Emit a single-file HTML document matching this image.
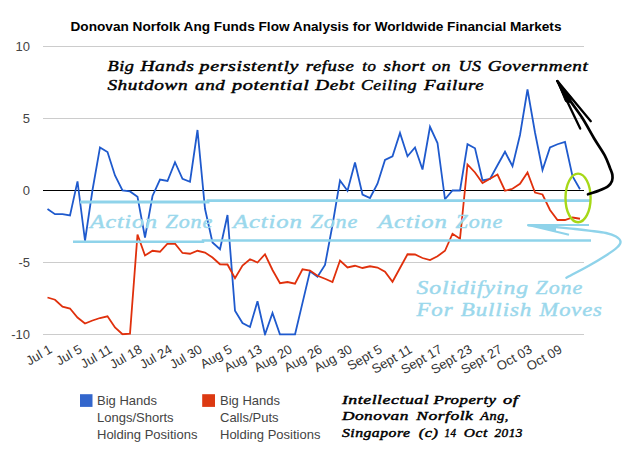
<!DOCTYPE html>
<html><head><meta charset="utf-8"><style>
html,body{margin:0;padding:0;background:#fff;}
svg{display:block;font-family:"Liberation Sans",sans-serif;}
.cal{font-family:"Liberation Serif",serif;font-style:italic;font-weight:normal;stroke-width:0.45;stroke-linejoin:round;}
</style></head><body>
<svg width="640" height="469" viewBox="0 0 640 469">
<rect width="640" height="469" fill="#fff"/>
<text x="70.5" y="31" font-size="12.2" font-weight="bold" fill="#000" textLength="491" lengthAdjust="spacingAndGlyphs">Donovan Norfolk Ang Funds Flow Analysis for Worldwide Financial Markets</text>
<g stroke="#ccc" stroke-width="1" shape-rendering="crispEdges">
<line x1="43" x2="584" y1="46.5" y2="46.5"/>
<line x1="43" x2="584" y1="118.5" y2="118.5"/>
<line x1="43" x2="584" y1="262.5" y2="262.5"/>
<line x1="43" x2="584" y1="334.5" y2="334.5"/>
</g>
<line x1="43" x2="584" y1="190.5" y2="190.5" stroke="#000" stroke-width="1" shape-rendering="crispEdges"/>
<g font-size="13" fill="#444" text-anchor="end">
<text x="30" y="50.8">10</text><text x="30" y="122.8">5</text><text x="30" y="194.8">0</text><text x="30" y="266.8">-5</text><text x="30" y="338.8">-10</text>
</g>
<defs><clipPath id="pa"><rect x="43" y="40" width="542" height="295.4"/></clipPath></defs>
<path clip-path="url(#pa)" d="M47.5,209.00 L55.0,214.20 L62.5,214.20 L70.0,215.50 L77.5,181.40 L85.0,240.75 L92.5,190.00 L100.0,147.40 L107.5,152.00 L115.0,175.50 L122.5,190.40 L130.0,191.40 L137.5,196.80 L145.0,237.50 L152.5,196.00 L160.0,179.60 L167.5,181.00 L175.0,162.20 L182.5,178.90 L190.0,181.75 L197.5,130.00 L205.0,208.75 L212.5,242.50 L220.0,249.25 L227.5,215.00 L235.0,310.75 L242.5,323.00 L250.0,327.00 L257.5,301.25 L265.0,334.50 L272.5,313.00 L280.0,334.50 L287.5,334.50 L295.0,334.50 L302.5,302.90 L310.0,271.25 L317.5,276.75 L325.0,265.00 L332.5,225.00 L340.0,180.50 L347.5,190.75 L355.0,162.50 L362.5,194.50 L370.0,198.00 L377.5,183.75 L385.0,160.00 L392.5,156.25 L400.0,133.00 L407.5,156.25 L415.0,147.50 L422.5,169.50 L430.0,126.75 L437.5,143.00 L445.0,199.25 L452.5,190.50 L460.0,190.50 L467.5,144.25 L475.0,148.25 L482.5,180.50 L490.0,179.00 L497.5,165.25 L505.0,151.75 L512.5,166.25 L520.0,135.00 L527.5,89.50 L535.0,132.50 L542.5,170.00 L550.0,147.50 L557.5,144.25 L565.0,142.00 L572.5,176.25 L580.0,189.25" fill="none" stroke="#1f5acd" stroke-width="1.8"/>
<path clip-path="url(#pa)" d="M47.5,297.50 L55.0,299.75 L62.5,306.75 L70.0,308.50 L77.5,317.50 L85.0,323.50 L92.5,320.50 L100.0,318.00 L107.5,316.25 L115.0,327.50 L122.5,334.25 L130.0,333.75 L137.5,234.50 L145.0,255.50 L152.5,250.75 L160.0,251.75 L167.5,243.75 L175.0,243.75 L182.5,253.00 L190.0,253.75 L197.5,250.75 L205.0,252.50 L212.5,257.50 L220.0,264.25 L227.5,264.50 L235.0,278.25 L242.5,265.50 L250.0,259.25 L257.5,262.50 L265.0,254.25 L272.5,270.00 L280.0,283.25 L287.5,282.00 L295.0,283.75 L302.5,269.25 L310.0,270.50 L317.5,275.75 L325.0,278.75 L332.5,282.00 L340.0,260.50 L347.5,267.50 L355.0,265.75 L362.5,268.00 L370.0,266.25 L377.5,267.50 L385.0,271.75 L392.5,281.75 L400.0,268.00 L407.5,254.25 L415.0,254.50 L422.5,258.00 L430.0,260.00 L437.5,256.25 L445.0,250.75 L452.5,233.75 L460.0,238.75 L467.5,164.50 L475.0,172.50 L482.5,183.00 L490.0,178.75 L497.5,174.50 L505.0,190.75 L512.5,188.75 L520.0,183.75 L527.5,172.50 L535.0,192.50 L542.5,194.50 L550.0,210.00 L557.5,220.00 L565.0,220.00 L572.5,217.50 L580.0,218.75" fill="none" stroke="#e0300c" stroke-width="1.8"/>
<g font-size="13" fill="#333"><text text-anchor="end" transform="translate(53.0,352) rotate(-30)">Jul 1</text><text text-anchor="end" transform="translate(83.0,352) rotate(-30)">Jul 5</text><text text-anchor="end" transform="translate(113.0,352) rotate(-30)">Jul 11</text><text text-anchor="end" transform="translate(143.0,352) rotate(-30)">Jul 18</text><text text-anchor="end" transform="translate(173.0,352) rotate(-30)">Jul 24</text><text text-anchor="end" transform="translate(203.0,352) rotate(-30)">Jul 30</text><text text-anchor="end" transform="translate(233.0,352) rotate(-30)">Aug 5</text><text text-anchor="end" transform="translate(263.0,352) rotate(-30)">Aug 13</text><text text-anchor="end" transform="translate(293.0,352) rotate(-30)">Aug 20</text><text text-anchor="end" transform="translate(323.0,352) rotate(-30)">Aug 26</text><text text-anchor="end" transform="translate(353.0,352) rotate(-30)">Aug 30</text><text text-anchor="end" transform="translate(383.0,352) rotate(-30)">Sept 5</text><text text-anchor="end" transform="translate(413.0,352) rotate(-30)">Sept 11</text><text text-anchor="end" transform="translate(443.0,352) rotate(-30)">Sept 17</text><text text-anchor="end" transform="translate(473.0,352) rotate(-30)">Sept 23</text><text text-anchor="end" transform="translate(503.0,352) rotate(-30)">Sept 27</text><text text-anchor="end" transform="translate(533.0,352) rotate(-30)">Oct 03</text><text text-anchor="end" transform="translate(563.0,352) rotate(-30)">Oct 09</text></g>
<!-- legend -->
<rect x="80" y="394.2" width="12.5" height="12.7" fill="#3366cc"/>
<rect x="202.2" y="394.2" width="12.8" height="12.7" fill="#dc3912"/>
<g font-size="13" fill="#444">
<text x="97" y="405">Big Hands</text><text x="97" y="422">Longs/Shorts</text><text x="97" y="439">Holding Positions</text>
<text x="220" y="405">Big Hands</text><text x="220" y="422">Calls/Puts</text><text x="220" y="439">Holding Positions</text>
</g>
<!-- light blue zone lines -->
<g stroke="#8fd3ea" fill="none">
<path d="M80,202 L208,202 L208,200.6 L590,200.6" stroke-width="2.9"/>
<path d="M73,241.8 L203,241.8 L203,240.6 L591,240.6" stroke-width="2.5"/>
<path d="M528.2,225.2 C531.0,225.4 539.5,225.8 545.0,226.2 C550.5,226.6 556.0,227.1 561.0,227.6 C566.0,228.1 570.4,228.5 575.0,229.0 C579.6,229.5 583.6,229.9 588.8,230.6 C593.9,231.3 601.5,232.0 606.0,233.0 C610.5,234.0 613.6,235.1 616.0,236.5 C618.4,237.9 620.3,239.8 620.5,241.6 C620.7,243.4 619.4,245.2 617.0,247.5 C614.6,249.8 610.7,252.4 606.0,255.4 C601.3,258.4 595.4,262.0 588.8,265.7 C582.1,269.4 570.1,275.7 566.4,277.7" stroke-width="2.4" stroke-linecap="round"/>
<path d="M528.2,225 L589,225 M528.2,225 L569,234.8" stroke-width="2.2"/>
</g>
<path d="M527.5,225 L556,223.9 L556,231.6 Z" fill="#8fd3ea"/>
<g class="cal" fill="#9bd8ec" stroke="#9bd8ec" stroke-width="0.3" font-size="19.7">
<text transform="translate(90,228) scale(1.215,1)" textLength="55.1" lengthAdjust="spacing">Action</text><text transform="translate(165.5,228) scale(1.119,1)" textLength="41.8" lengthAdjust="spacing">Zone</text><text transform="translate(233,228) scale(1.254,1)" textLength="55.0" lengthAdjust="spacing">Action</text><text transform="translate(310.5,228) scale(1.119,1)" textLength="41.8" lengthAdjust="spacing">Zone</text><text transform="translate(378,228) scale(1.254,1)" textLength="55.0" lengthAdjust="spacing">Action</text><text transform="translate(455.5,228) scale(1.119,1)" textLength="41.8" lengthAdjust="spacing">Zone</text>
</g>
<g class="cal" fill="#9bd8ec" stroke="#9bd8ec" stroke-width="0.3" font-size="19.5">
<text transform="translate(416.5,294) scale(1.213,1)" textLength="91.9" lengthAdjust="spacing">Solidifying</text><text transform="translate(535.6,294) scale(1.126,1)" textLength="41.4" lengthAdjust="spacing">Zone</text>
<text transform="translate(416.5,316) scale(1.173,1)" textLength="30.8" lengthAdjust="spacing">For</text><text transform="translate(460.8,316) scale(1.178,1)" textLength="59.8" lengthAdjust="spacing">Bullish</text><text transform="translate(539.5,316) scale(1.155,1)" textLength="54.0" lengthAdjust="spacing">Moves</text>
</g>
<!-- black annotation -->
<g class="cal" fill="#000" stroke="#000" font-size="15.2">
<text transform="translate(107.4,71) scale(1.203,1)" textLength="22.1" lengthAdjust="spacing">Big</text><text transform="translate(140.4,71) scale(1.285,1)" textLength="41.6" lengthAdjust="spacing">Hands</text><text transform="translate(199.6,71) scale(1.317,1)" textLength="75.1" lengthAdjust="spacing">persistently</text><text transform="translate(305.7,71) scale(1.233,1)" textLength="39.0" lengthAdjust="spacing">refuse</text><text transform="translate(362.3,71) scale(1.108,1)" textLength="12.4" lengthAdjust="spacing">to</text><text transform="translate(383.5,71) scale(1.241,1)" textLength="33.2" lengthAdjust="spacing">short</text><text transform="translate(432,71) scale(1.178,1)" textLength="15.7" lengthAdjust="spacing">on</text><text transform="translate(458.5,71) scale(1.179,1)" textLength="19.1" lengthAdjust="spacing">US</text><text transform="translate(487.7,71) scale(1.262,1)" textLength="79.4" lengthAdjust="spacing">Government</text>
<text transform="translate(107.4,89.5) scale(1.267,1)" textLength="63.3" lengthAdjust="spacing">Shutdown</text><text transform="translate(195,89.5) scale(1.254,1)" textLength="23.8" lengthAdjust="spacing">and</text><text transform="translate(232,89.5) scale(1.336,1)" textLength="57.6" lengthAdjust="spacing">potential</text><text transform="translate(315.2,89.5) scale(1.262,1)" textLength="31.0" lengthAdjust="spacing">Debt</text><text transform="translate(361,89.5) scale(1.164,1)" textLength="47.8" lengthAdjust="spacing">Ceiling</text><text transform="translate(424,89.5) scale(1.246,1)" textLength="47.9" lengthAdjust="spacing">Failure</text>
</g>
<g class="cal" fill="#000" stroke="#000" font-size="12.5">
<text transform="translate(341.9,404.4) scale(1.428,1)" textLength="60.8" lengthAdjust="spacing">Intellectual</text><text transform="translate(433.4,404.4) scale(1.344,1)" textLength="46.6" lengthAdjust="spacing">Property</text><text transform="translate(503,404.4) scale(1.471,1)" textLength="10.1" lengthAdjust="spacing">of</text>
<text transform="translate(341.9,420.3) scale(1.386,1)" textLength="48.0" lengthAdjust="spacing">Donovan</text><text transform="translate(416.25,420.3) scale(1.406,1)" textLength="40.3" lengthAdjust="spacing">Norfolk</text><text transform="translate(480.3,420.3) scale(1.144,1)" textLength="24.6" lengthAdjust="spacing">Ang,</text>
<text transform="translate(341.9,436.6) scale(1.259,1)" textLength="54.1" lengthAdjust="spacing">Singapore</text><text transform="translate(418.75,436.6) scale(1.312,1)" textLength="14.6" lengthAdjust="spacing">(c)</text><text transform="translate(444.4,436.6) scale(0.888,1)" textLength="13.1" lengthAdjust="spacing">14</text><text transform="translate(463.75,436.6) scale(1.241,1)" textLength="18.9" lengthAdjust="spacing">Oct</text><text transform="translate(494.4,436.6) scale(1.064,1)" textLength="26.4" lengthAdjust="spacing">2013</text>
</g>
<!-- green ellipse -->
<ellipse cx="578.05" cy="197.9" rx="12.55" ry="24.3" fill="none" stroke="#a6d817" stroke-width="2.4"/>
<!-- black arrow -->
<g stroke="#000" fill="none" stroke-linecap="round" stroke-linejoin="round">
<path d="M557.4,81.1 C559.3,84.1 564.9,92.8 569.0,99.0 C573.1,105.2 578.1,111.5 582.3,118.0 C586.5,124.5 590.3,132.0 594.0,138.2 C597.7,144.4 602.0,150.3 604.7,155.3 C607.4,160.3 608.7,164.7 610.0,168.0 C611.3,171.3 612.1,172.8 612.4,175.0 C612.7,177.2 612.7,179.2 612.0,181.0 C611.3,182.8 610.3,184.5 608.2,186.1 C606.1,187.7 602.6,189.2 599.2,190.6 C595.8,192.0 589.9,193.7 588.0,194.3" stroke-width="2.7"/>
<path d="M557.4,81.1 L590.8,121.2 M557.4,81.1 L580.2,128.6" stroke-width="2.3"/>
</g>
<path d="M556.6,80.2 L572,98 L569,103 L565.5,101.5 Z" fill="#000" stroke="#000" stroke-width="1" stroke-linejoin="round"/>
</svg>
</body></html>
